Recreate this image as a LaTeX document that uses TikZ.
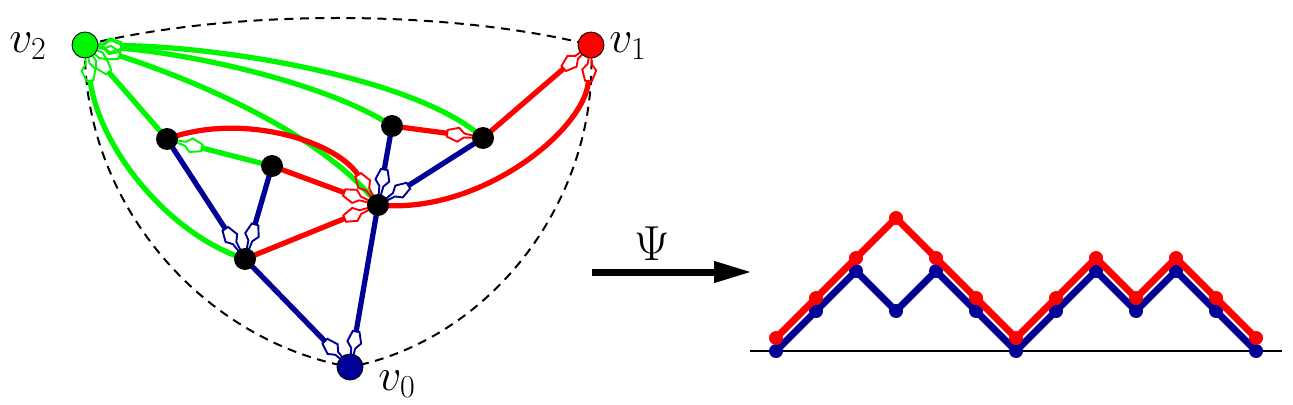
\RequirePackage{fix-cm}
\documentclass[tikz,border=0pt]{standalone}
\usetikzlibrary{calc,arrows.meta}
\definecolor{gr}{RGB}{0,245,0}
\definecolor{rd}{RGB}{255,0,0}
\definecolor{nv}{RGB}{0,0,150}
\pgfdeclarelayer{bg}
\pgfsetlayers{bg,main}
\tikzset{
  x=0.02cm,y=-0.02cm,
  edge/.style={line width=0.105cm, shorten >=0.72cm},
  mkline/.style={line width=0.038cm, line join=miter},
  dashedarc/.style={black, line width=0.04cm, dash pattern=on 0.18cm off 0.13cm},
  vtx/.style={circle, draw=black, line width=0.5pt, minimum size=0.52cm, inner sep=0pt},
  bk/.style={circle, fill=black, minimum size=0.44cm, inner sep=0pt},
  dot/.style={circle, inner sep=0pt, minimum size=0.28cm},
  pathline/.style={line width=0.14cm, line join=round},
  lab/.style={font=\fontsize{26}{30}\selectfont, inner sep=0pt},
}
\newcommand\mk[3]{%
  \pgfmathanglebetweenpoints{\pgfpointanchor{#1}{center}}{\pgfpointanchor{#2}{center}}%
  \edef\mkang{\pgfmathresult}%
  \begin{scope}[shift={(#1.center)},rotate=\mkang]
    \draw[#3,mkline] (8,-0.9)--(19,-2)--(25,-7)--(36,-3.4)--(36,3.4)--(25,7)--(19,2)--(8,0.9);
  \end{scope}}
\begin{document}
\begin{tikzpicture}
\useasboundingbox (0,0) rectangle (1293,405);
% vertices
\node[vtx, fill=gr] (v2) at (85,45) {};
\node[vtx, fill=rd] (v1) at (591,45) {};
\node[vtx, fill=nv] (v0) at (350,367) {};
\node[bk] (A) at (167,139) {};
\node[bk] (B) at (272,166) {};
\node[bk] (C) at (392,126) {};
\node[bk] (D) at (483,138) {};
\node[bk] (E) at (378,205) {};
\node[bk] (F) at (245,259) {};
\node[lab] (l2) at (28,46) {$v_2$};
\node[lab] (l1) at (628,46) {$v_1$};
\node[lab] (l0) at (397,384) {$v_0$};
% control points
\coordinate (gf1) at (100,150); \coordinate (gf2) at (170,235);
\coordinate (ge1) at (180,75);  \coordinate (ge2) at (320,130);
\coordinate (gc1) at (200,55);  \coordinate (gc2) at (330,85);
\coordinate (gd1) at (230,47);  \coordinate (gd2) at (420,80);
\coordinate (ra1) at (240,112); \coordinate (ra2) at (335,140);
\coordinate (rv1) at (480,215); \coordinate (rv2) at (585,130);
\begin{pgfonlayer}{bg}
% dashed outer face
\draw[dashedarc] (v2.center) .. controls (230,9) and (446,9) .. (v1.center);
\draw[dashedarc] (v2.center) .. controls (82,200) and (200,340) .. (v0.center);
\draw[dashedarc] (v1.center) .. controls (600,200) and (490,340) .. (v0.center);
% green
\draw[edge,gr] (B.center) -- (A.center);
\draw[edge,gr] (A.center) -- (v2.center);
\draw[edge,gr] (F.center) .. controls (gf2) and (gf1) .. (v2.center);
\draw[edge,gr] (E.center) .. controls (ge2) and (ge1) .. (v2.center);
\draw[edge,gr] (C.center) .. controls (gc2) and (gc1) .. (v2.center);
\draw[edge,gr] (D.center) .. controls (gd2) and (gd1) .. (v2.center);
\mk{A}{B}{gr}\mk{v2}{A}{gr}\mk{v2}{gf1}{gr}\mk{v2}{ge1}{gr}\mk{v2}{gc1}{gr}\mk{v2}{gd1}{gr}
% red
\draw[edge,rd] (C.center) -- (D.center);
\draw[edge,rd] (D.center) -- (v1.center);
\draw[edge,rd] (E.center) .. controls (rv1) and (rv2) .. (v1.center);
\draw[edge,rd] (A.center) .. controls (ra1) and (ra2) .. (E.center);
\draw[edge,rd] (B.center) -- (E.center);
\draw[edge,rd] (F.center) -- (E.center);
\mk{D}{C}{rd}\mk{v1}{D}{rd}\mk{v1}{rv2}{rd}\mk{E}{ra2}{rd}\mk{E}{B}{rd}\mk{E}{F}{rd}
% blue
\draw[edge,nv] (A.center) -- (F.center);
\draw[edge,nv] (B.center) -- (F.center);
\draw[edge,nv] (F.center) -- (v0.center);
\draw[edge,nv] (E.center) -- (v0.center);
\draw[edge,nv] (C.center) -- (E.center);
\draw[edge,nv] (D.center) -- (E.center);
\mk{F}{A}{nv}\mk{F}{B}{nv}\mk{v0}{F}{nv}\mk{v0}{E}{nv}\mk{E}{C}{nv}\mk{E}{D}{nv}
\end{pgfonlayer}
% arrow Psi
\coordinate (as) at (592,272);
\coordinate (ae) at (752,272);
\draw[line width=0.14cm, -{Triangle[length=0.76cm,width=0.4cm]}] (as) -- (ae);
\node[font=\fontsize{28}{32}\selectfont, inner sep=0pt] (psi) at (652,244) {$\Psi$};
% lattice paths
\coordinate (bl) at (750,351);
\coordinate (br) at (1282,351);
\draw[line width=0.03cm] (bl) -- (br);
\foreach \h [count=\i from 0] in {0,1,2,1,2,1,0,1,2,1,2,1,0}
  \node[dot, fill=nv] (b\i) at (776+40*\i,351-40*\h) {};
\draw[nv, pathline] (b0.center) \foreach \i in {1,...,12}{ -- (b\i.center)};
\foreach \h [count=\i from 0] in {0,1,2,3,2,1,0,1,2,1,2,1,0}
  \node[dot, fill=rd] (r\i) at (776+40*\i,338-40*\h) {};
\draw[rd, pathline] (r0.center) \foreach \i in {1,...,12}{ -- (r\i.center)};
\end{tikzpicture}
\end{document}
